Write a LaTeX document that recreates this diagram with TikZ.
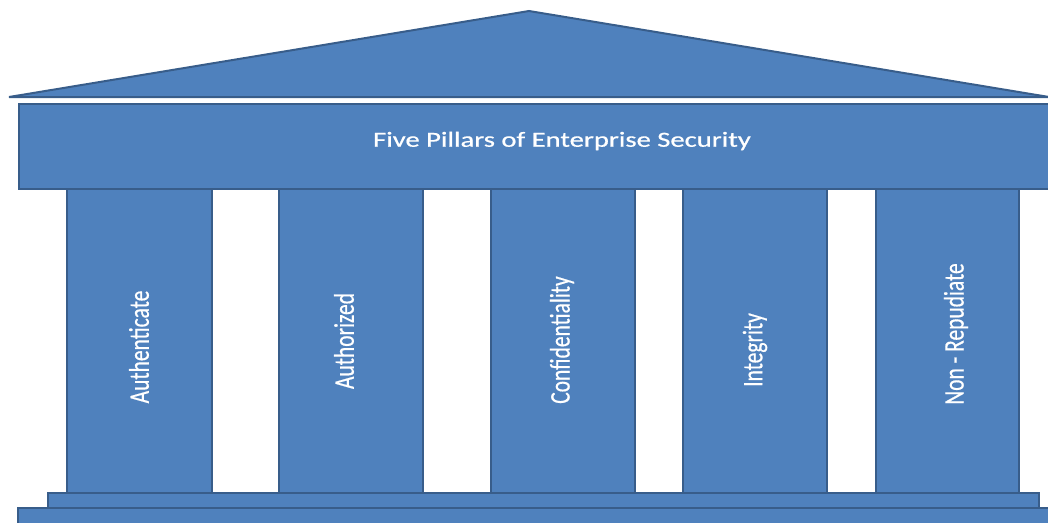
\documentclass[tikz,border=0pt]{standalone}
\usepackage{fontspec}
\setmainfont{Carlito}
\newfontfamily\labelfont[FakeBold=0.6]{Carlito}
\usepackage{graphicx}
\definecolor{pillarfill}{HTML}{4F81BD}
\definecolor{pillarline}{HTML}{385D8A}
\tikzset{
  part/.style={fill=pillarfill, draw=pillarline, line width=2pt, line join=miter},
  label/.style={text=white, inner sep=0pt, font=\labelfont\fontsize{21.5}{25}\selectfont},
}
% wide text, as in the drawing (letters stretched horizontally)
\newcommand{\widetext}[1]{\scalebox{1.33}[1]{#1}}
\newcommand{\uptext}[1]{\scalebox{1.32}[1]{\rotatebox{90}{#1}}}
\begin{document}
\begin{tikzpicture}[x=1pt, y=-1pt]
  \useasboundingbox (0,0) rectangle (1048,522);
  \clip (0,0) rectangle (1048,522);
  % roof
  \draw[part] (9,97) -- (529,11) -- (1049,97) -- cycle;
  % entablature
  \draw[part] (19,104) rectangle (1065,189);
  % pillars
  \draw[part] (67,189) rectangle (212,493);
  \draw[part] (279,189) rectangle (423,493);
  \draw[part] (491,189) rectangle (635,493);
  \draw[part] (683,189) rectangle (827,493);
  \draw[part] (876,189) rectangle (1019,493);
  % steps
  \draw[part] (48,493) rectangle (1039,508);
  \draw[part] (18,508) rectangle (1065,535);
  % labels
  \node[label] (title) at (562,141) {\widetext{Five Pillars of Enterprise Security}};
  \node[label] (p1) at (139,347) {\uptext{Authenticate}};
  \node[label] (p2) at (344,341) {\uptext{Authorized}};
  \node[label] (p3) at (562,340) {\uptext{Confidentiality}};
  \node[label] (p4) at (755,350) {\uptext{Integrity}};
  \node[label] (p5) at (956,334) {\uptext{Non - Repudiate}};
\end{tikzpicture}
\end{document}
